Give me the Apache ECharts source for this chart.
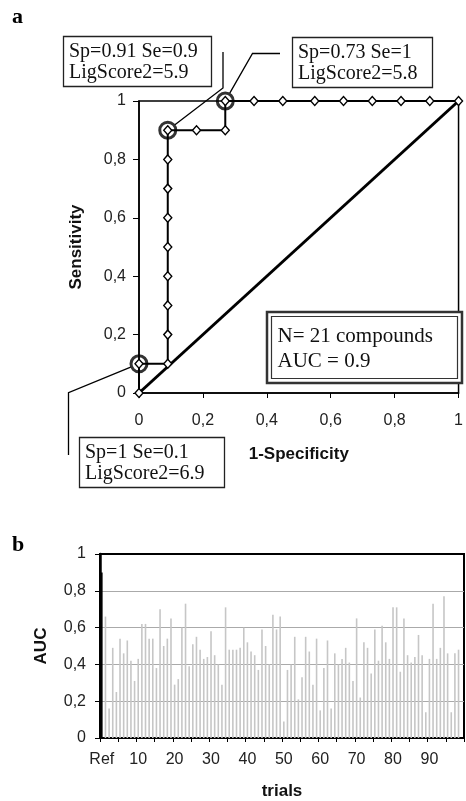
<!DOCTYPE html>
<html>
<head>
<meta charset="utf-8">
<script src="https://cdn.jsdelivr.net/npm/echarts@6/dist/echarts.min.js"></script>
<style>
  html, body { margin: 0; padding: 0; background: #fff; }
  #chart { width: 466px; height: 801px; }
</style>
</head>
<body>
<div id="chart"></div>
<script>
// panel a: ROC curve, 21 compounds (10 actives, 11 inactives)
const rocFpr = [0, 0, 0.09, 0.09, 0.09, 0.09, 0.09, 0.09, 0.09, 0.09, 0.09, 0.18, 0.27, 0.27, 0.36, 0.45, 0.55, 0.64, 0.73, 0.82, 0.91, 1];
const rocSens = [0, 0.1, 0.1, 0.2, 0.3, 0.4, 0.5, 0.6, 0.7, 0.8, 0.9, 0.9, 0.9, 1, 1, 1, 1, 1, 1, 1, 1, 1];
// circled thresholds
const pickedFpr = [0, 0.09, 0.27];
const pickedSens = [0.1, 0.9, 1];
const pickedText = ["Sp=1 Se=0.1\nLigScore2=6.9", "Sp=0.91 Se=0.9\nLigScore2=5.9", "Sp=0.73 Se=1\nLigScore2=5.8"];
// random line
const diagFpr = [0, 1];
const diagSens = [0, 1];
const aucText = "N= 21 compounds\nAUC = 0.9";

// panel b: AUC of reference vs randomised trials
const refAuc = 0.9;
const trialAuc = [
  0.66, 0.16, 0.49, 0.25, 0.54, 0.46, 0.53, 0.42, 0.31, 0.43,
  0.62, 0.62, 0.54, 0.54, 0.38, 0.70, 0.50, 0.54, 0.65, 0.29,
  0.32, 0.60, 0.73, 0.39, 0.51, 0.55, 0.48, 0.43, 0.44, 0.58,
  0.45, 0.40, 0.29, 0.71, 0.48, 0.48, 0.48, 0.49, 0.60, 0.52,
  0.47, 0.45, 0.37, 0.59, 0.50, 0.40, 0.67, 0.59, 0.66, 0.09,
  0.37, 0.40, 0.55, 0.21, 0.33, 0.55, 0.47, 0.29, 0.54, 0.15,
  0.38, 0.53, 0.16, 0.46, 0.40, 0.43, 0.49, 0.41, 0.31, 0.65,
  0.22, 0.52, 0.49, 0.35, 0.59, 0.42, 0.61, 0.52, 0.43, 0.71,
  0.71, 0.36, 0.65, 0.45, 0.41, 0.44, 0.56, 0.45, 0.14, 0.43,
  0.73, 0.43, 0.49, 0.77, 0.46, 0.14, 0.46, 0.48
];
const trialLabels = ["Ref"].concat(Array.from({ length: 99 }, (_, i) => String(i + 1)));

const sans = "Liberation Sans";
const serif = "Liberation Serif";
const fmt = (v) => (v === 0 || v === 1 ? String(v) : v.toFixed(1).replace(".", ","));
const pair = (xs, ys) => xs.map((x, i) => [x, ys[i]]);

const chart = echarts.init(document.getElementById("chart"), null, { renderer: "canvas" });

const valueAxis = (gridIndex, opts) => Object.assign({
  type: "value",
  gridIndex: gridIndex,
  min: 0,
  max: 1,
  interval: 0.2,
  axisLine: { show: true, lineStyle: { color: "#000", width: 1.5 } },
  axisTick: { show: true, length: 5, lineStyle: { color: "#000", width: 1 } },
  axisLabel: { color: "#222", fontFamily: sans, fontSize: 16, formatter: fmt },
  splitLine: { show: false },
  nameLocation: "middle",
  nameTextStyle: { color: "#111", fontFamily: sans, fontSize: 17, fontWeight: "bold" },
}, opts);

const option = {
  animation: false,
  grid: [
    { left: 139, top: 101, width: 325, height: 292, show: true, borderColor: "#000", borderWidth: 1.5, backgroundColor: "transparent" },
    { left: 100, top: 554, width: 364, height: 187, show: true, borderColor: "#000", borderWidth: 2, backgroundColor: "transparent" },
  ],
  xAxis: [
    valueAxis(0, { name: "1-Specificity", nameGap: 53, axisLabel: { color: "#222", fontFamily: sans, fontSize: 16, formatter: fmt, margin: 20 } }),
    {
      type: "category",
      gridIndex: 1,
      data: trialLabels,
      boundaryGap: true,
      name: "trials",
      nameLocation: "middle",
      nameGap: 45,
      nameTextStyle: { color: "#111", fontFamily: sans, fontSize: 17, fontWeight: "bold" },
      axisLine: { show: true, lineStyle: { color: "#000", width: 2 } },
      axisTick: { show: true, interval: 4, length: 4, lineStyle: { color: "#000", width: 1 } },
      axisLabel: { interval: 9, color: "#222", fontFamily: sans, fontSize: 16, margin: 14 },
    },
  ],
  yAxis: [
    valueAxis(0, { name: "Sensitivity", nameGap: 54, axisTick: { show: true, length: 6, lineStyle: { color: "#000" } }, axisLabel: { color: "#222", fontFamily: sans, fontSize: 16, formatter: fmt, margin: 13 } }),
    valueAxis(1, {
      name: "AUC",
      nameGap: 50,
      axisLine: { show: true, lineStyle: { color: "#000", width: 2.5 } },
      axisTick: { show: true, length: 5, lineStyle: { color: "#000" } },
      axisLabel: { color: "#222", fontFamily: sans, fontSize: 16, formatter: fmt, margin: 14 },
      splitLine: { show: true, lineStyle: { color: ["#000", "#aaa", "#aaa", "#aaa", "#aaa", "#000"], width: 1 } },
    }),
  ],
  series: [
    {
      type: "line",
      xAxisIndex: 0,
      yAxisIndex: 0,
      data: pair(diagFpr, diagSens),
      symbol: "none",
      lineStyle: { color: "#000", width: 3 },
      silent: true,
      z: 2,
    },
    {
      type: "line",
      xAxisIndex: 0,
      yAxisIndex: 0,
      data: pair(rocFpr, rocSens),
      symbol: "diamond",
      symbolSize: [8, 9],
      itemStyle: { color: "#fff", borderColor: "#000", borderWidth: 1.4 },
      lineStyle: { color: "#000", width: 2 },
      silent: true,
      z: 3,
    },
    {
      type: "scatter",
      xAxisIndex: 0,
      yAxisIndex: 0,
      data: pair(pickedFpr, pickedSens),
      symbol: "circle",
      symbolSize: 16,
      itemStyle: { color: "rgba(0,0,0,0)", borderColor: "#000", borderWidth: 3 },
      silent: true,
      z: 4,
    },
    {
      type: "bar",
      xAxisIndex: 1,
      yAxisIndex: 1,
      barWidth: 1.6,
      data: [{ value: refAuc, itemStyle: { color: "#000" } }].concat(trialAuc),
      itemStyle: { color: "#c6c6c6" },
      silent: true,
      z: 2,
    },
  ],
};

chart.setOption(option);

// callout boxes (pixel layout), leaders end at the circled points
const callouts = [
  { box: [79, 437, 145, 50], bend: [[68.5, 392.7], [68.5, 455]] },
  { box: [63, 36, 148, 50], bend: [[223, 88], [223, 52]] },
  { box: [292, 37, 140, 50], bend: [[252.5, 53.5], [280, 53.5]] },
];

const graphics = [];
graphics.push({ type: "text", x: 12, y: 17.5, style: { text: "a", fontFamily: serif, fontSize: 22, fontWeight: "bold", fill: "#000", verticalAlign: "middle" } });
graphics.push({ type: "text", x: 12, y: 545, style: { text: "b", fontFamily: serif, fontSize: 22, fontWeight: "bold", fill: "#000", verticalAlign: "middle" } });

callouts.forEach((c, i) => {
  const p = chart.convertToPixel({ gridIndex: 0 }, [pickedFpr[i], pickedSens[i]]);
  const b = c.bend[0];
  const dx = b[0] - p[0], dy = b[1] - p[1];
  const len = Math.sqrt(dx * dx + dy * dy);
  const start = [p[0] + dx * 9 / len, p[1] + dy * 9 / len];
  graphics.push({ type: "polyline", z: 100, shape: { points: [start].concat(c.bend) }, style: { stroke: "#000", lineWidth: 1.3, fill: null } });
  const [x, y, w, h] = c.box;
  graphics.push({ type: "rect", z: 100, shape: { x: x + 0.5, y: y + 0.5, width: w, height: h }, style: { fill: "#fff", stroke: "#222", lineWidth: 1.3 } });
  graphics.push({ type: "text", z: 101, x: x + 6, y: y + h / 2 + 1, style: { text: pickedText[i], fontFamily: serif, fontSize: 20, lineHeight: 21, fill: "#111", verticalAlign: "middle" } });
});

// N / AUC box with double frame
graphics.push({ type: "rect", z: 100, shape: { x: 267, y: 312, width: 195, height: 71 }, style: { fill: "#fff", stroke: "#333", lineWidth: 2.5 } });
graphics.push({ type: "rect", z: 100, shape: { x: 271.5, y: 316.5, width: 186, height: 62 }, style: { fill: "#fff", stroke: "#333", lineWidth: 1.2 } });
graphics.push({ type: "text", z: 101, x: 277.5, y: 348.5, style: { text: aucText, fontFamily: serif, fontSize: 21, lineHeight: 25, fill: "#111", verticalAlign: "middle" } });

chart.setOption({ graphic: graphics });
</script>
</body>
</html>
